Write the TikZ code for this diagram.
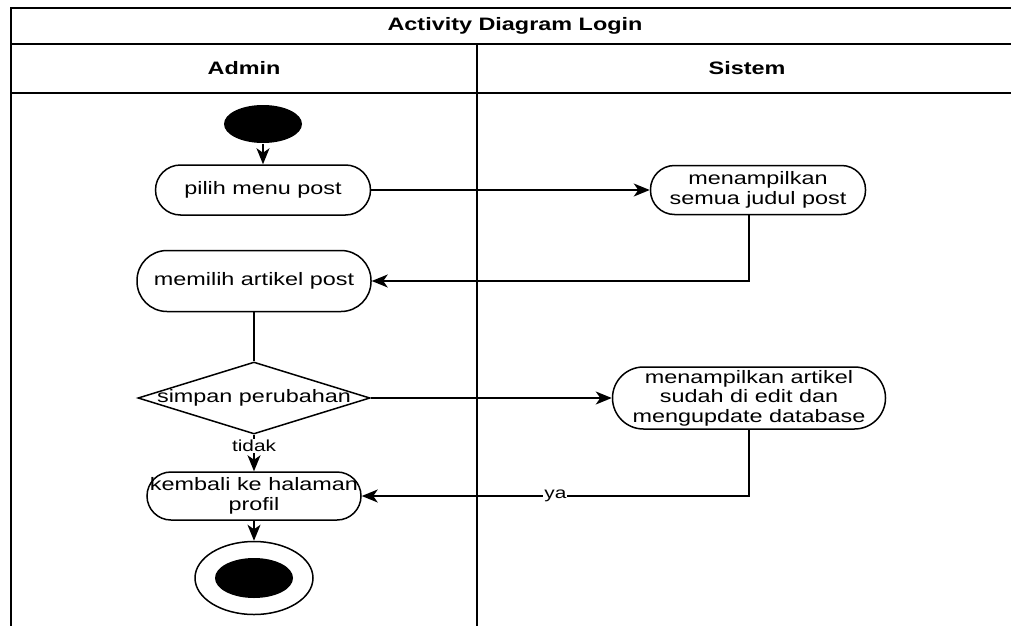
\documentclass[tikz,border=0pt]{standalone}
\usepackage{fontspec}
\setmainfont{Liberation Sans}[FakeStretch=1.3]
\usepackage{tikz}
\usetikzlibrary{arrows.meta,shapes.geometric}

\tikzset{
    aksi/.style={rectangle, draw, fill=white, rounded corners=25pt, minimum width=215pt, minimum height=50pt, inner sep=0pt, align=center},
    panah/.style={-{Stealth[length=16pt,width=13pt,inset=4.5pt]}},
    label/.style={fill=white, inner sep=1pt, font=\fontsize{16}{17}\selectfont},
    judul/.style={font=\bfseries\fontsize{18}{18.5}\selectfont},
}

\begin{document}
\begin{tikzpicture}[x=1pt, y=-1pt, line width=1.5pt, font=\fontsize{18}{19.5}\selectfont]
    \fill[white] (0,0) rectangle (1011,626);
    \useasboundingbox (0,0) rectangle (1011,626);

    % swimlane Admin | Sistem
    \draw (1011,8) -- (11,8) -- (11,626);
    \draw (11,44) -- (1011,44);
    \draw (11,93) -- (1011,93);
    \draw (477,44) -- (477,626);
    \node[judul] (diagram) at (515,26) {Activity Diagram Login};
    \node[judul] (admin) at (244,68) {Admin};
    \node[judul] (sistem) at (747,68) {Sistem};

    \node[ellipse, fill=black, minimum width=78pt, minimum height=38pt, inner sep=0pt] (mulai) at (263,124) {};
    \node[aksi, below of=mulai, node distance=66pt] (pilihmenu) {pilih menu post};
    \node[aksi, right of=pilihmenu, node distance=495pt, minimum height=49pt, rounded corners=24pt] (tampiljudul) {menampilkan\\semua judul post};
    \node[aksi, below of=pilihmenu, node distance=91pt, xshift=-9pt, minimum width=234pt, minimum height=61pt, rounded corners=30pt] (pilihartikel) {memilih artikel post};
    \node[diamond, draw, fill=white, below of=pilihartikel, node distance=117pt, minimum width=232pt, minimum height=72pt, inner sep=0pt] (simpan) {\makebox[0pt]{simpan perubahan}};
    \node[aksi, right of=simpan, node distance=495pt, minimum width=273pt, minimum height=62pt, rounded corners=31pt] (tampilartikel) {menampilkan artikel\\sudah di edit dan\\mengupdate database};
    \node[aksi, below of=simpan, node distance=98pt, minimum width=214pt, minimum height=48pt, rounded corners=24pt] (kembali) {kembali ke halaman\\profil};
    \node[ellipse, draw, fill=white, below of=kembali, node distance=82pt, minimum width=118pt, minimum height=73pt, inner sep=0pt] (selesai) {};
    \node[ellipse, fill=black, minimum width=78pt, minimum height=40pt, inner sep=0pt] (selesaiinti) at (selesai) {};

    \draw[panah] (mulai) -- (pilihmenu);
    \draw[panah] (pilihmenu) -- (tampiljudul);
    \draw[panah] ([xshift=-9pt]tampiljudul.south) |- (pilihartikel.east);
    \draw (pilihartikel) -- (simpan);
    \draw[panah] (simpan) -- (tampilartikel);
    \draw[panah] (simpan) -- node[label, pos=0.3] {tidak} (kembali);
    \draw[panah] (tampilartikel.south) |- node[label, pos=0.75] {ya} (kembali.east);
    \draw[panah] (kembali) -- (selesai);
\end{tikzpicture}
\end{document}
